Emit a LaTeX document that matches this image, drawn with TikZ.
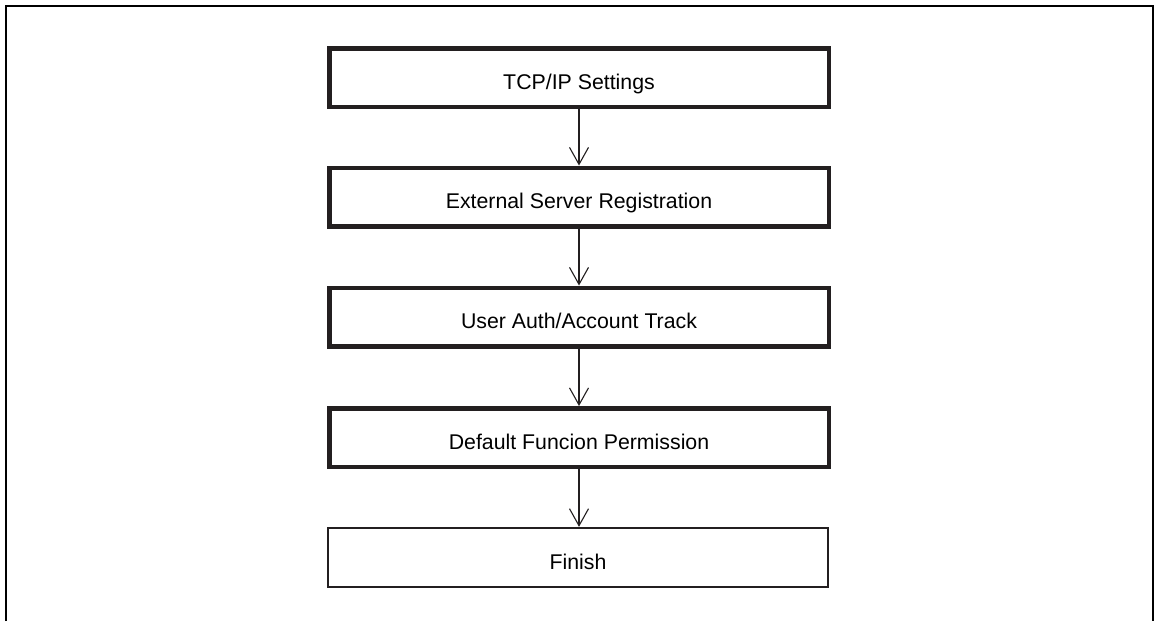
\documentclass[tikz,border=0pt]{standalone}
\usepackage{fontspec}
\setmainfont{Liberation Sans}
\usetikzlibrary{arrows.meta}
\definecolor{ink}{HTML}{231F20}
\begin{document}
\begin{tikzpicture}[x=1pt,y=-1pt,
  stepbox/.style={draw=ink, line width=4.5pt, fill=white, minimum width=499.5pt,
    minimum height=58.5pt, inner sep=0pt, text height=23pt, text depth=0pt,
    font=\fontsize{21.3}{24}\selectfont},
  endbox/.style={stepbox, line width=1.8pt, minimum width=500pt, minimum height=59.5pt},
  flow/.style={draw=ink, line width=1.1pt, -{Straight Barb[length=17pt,width=19pt,line width=1.1pt]}}]
\useasboundingbox (0,0) rectangle (1159,621);
\fill[white] (0,0) rectangle (1159,621);
\draw[line width=2.4pt, black] (6,621) -- (6,6) -- (1153,6) -- (1153,621);
\node[stepbox] (tcp) at (579,77.5) {TCP/IP Settings};
\node[stepbox] (ext) at (579,197) {External Server Registration};
\node[stepbox] (auth) at (579,317) {User Auth/Account Track};
\node[stepbox] (perm) at (579,437.5) {Default Funcion Permission};
\node[endbox] (fin) at (578,557.5) {Finish};
\draw[flow] (tcp.south) -- (ext.north);
\draw[flow] (ext.south) -- (auth.north);
\draw[flow] (auth.south) -- (perm.north);
\draw[flow] (perm.south) -- (perm.south |- fin.north);
\end{tikzpicture}
\end{document}
